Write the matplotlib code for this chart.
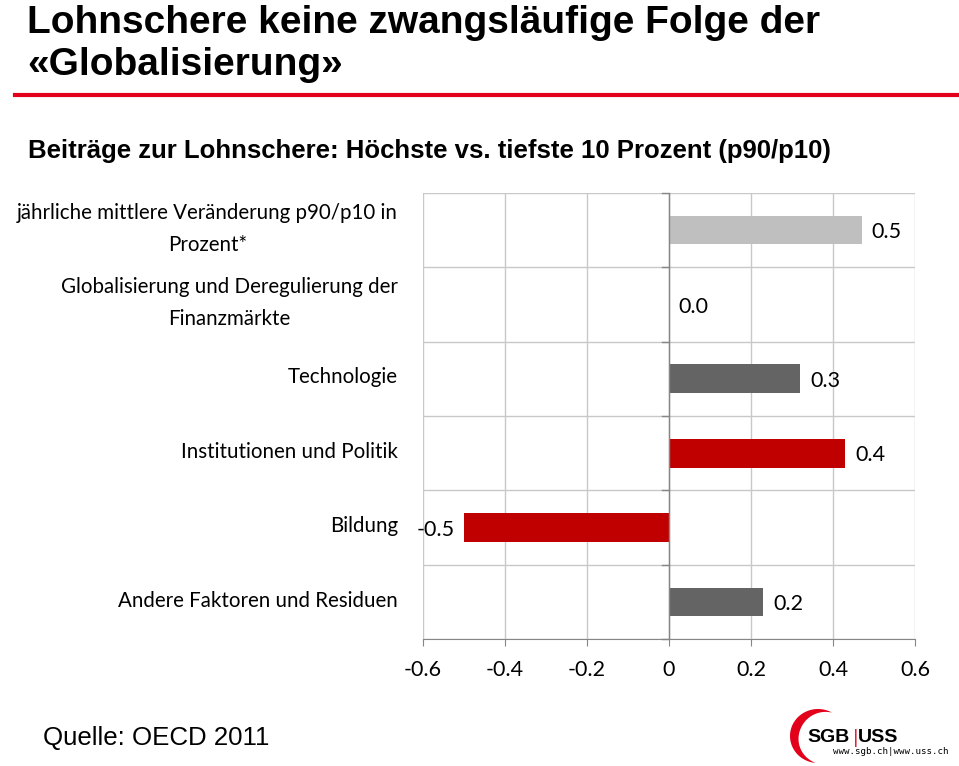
import matplotlib
matplotlib.use('Agg')
import matplotlib.pyplot as plt
from matplotlib.patches import Polygon
import numpy as np

categories = [
    'jährliche mittlere Veränderung p90/p10 in\nProzent*',
    'Globalisierung und Deregulierung der\nFinanzmärkte',
    'Technologie',
    'Institutionen und Politik',
    'Bildung',
    'Andere Faktoren und Residuen',
]
values = [0.47, 0.0, 0.32, 0.43, -0.50, 0.23]
colors = ['#BFBFBF', '#646464', '#646464', '#C00000', '#C00000', '#646464']
xticks = [-0.6, -0.4, -0.2, 0, 0.2, 0.4, 0.6]
xticklabels = ['-0.6', '-0.4', '-0.2', '0', '0.2', '0.4', '0.6']

body_font = ['Lato', 'DejaVu Sans']
head_font = ['Liberation Sans', 'DejaVu Sans']
W, H = 959, 766

fig = plt.figure(figsize=(W / 100, H / 100), dpi=100)

# header
fig.text(27 / W, 1 - 5 / H, 'Lohnschere keine zwangsläufige Folge der\n«Globalisierung»',
         fontsize=28, fontweight='bold', family=head_font, va='top', ha='left',
         linespacing=1.2)
fig.add_artist(plt.Line2D([15 / W, 957 / W], [1 - 95 / H, 1 - 95 / H],
                          color='#E2001A', lw=3, transform=fig.transFigure))
fig.text(28 / W, 1 - 151 / H, 'Beiträge zur Lohnschere: Höchste vs. tiefste 10 Prozent (p90/p10)',
         fontsize=18.5, fontweight='bold', family=head_font, va='center', ha='left')

ax = fig.add_axes([423 / W, 1 - 639.3 / H, 492 / W, 446.6 / H])
y = np.arange(len(categories))
ax.barh(y, values, height=0.385, color=colors, zorder=3)
ax.set_xlim(-0.6, 0.6)
ax.set_ylim(len(categories) - 0.5, -0.5)

# grid
for xv in xticks:
    ax.axvline(xv, color='#C8C8C8', lw=1, zorder=1)
for yv in np.arange(-0.5, len(categories) + 0.5, 1):
    ax.axhline(yv, color='#C8C8C8', lw=1, zorder=1)
ax.axvline(0, color='#868686', lw=1, zorder=4)

for s in ['top', 'right', 'left']:
    ax.spines[s].set_visible(False)
ax.spines['bottom'].set_color('#868686')

ax.set_xticks(xticks)
ax.set_xticklabels(xticklabels, family=body_font, fontsize=15.5)
ax.tick_params(axis='x', length=5, color='#868686', pad=10)
ax.set_yticks([])

# category tick marks on the zero axis
for yv in np.arange(-0.5, len(categories) + 0.5, 1):
    ax.plot([-0.017, 0], [yv, yv], color='#868686', lw=1, zorder=4, clip_on=False)

# category labels
for i, lab in enumerate(categories):
    ax.annotate(lab, xy=(0, i), xycoords=('axes fraction', 'data'),
                xytext=(-18, 1), textcoords='offset points',
                ha='right', va='center', multialignment='center',
                family=body_font, fontsize=14.8, linespacing=1.75)

# value labels
for i, v in enumerate(values):
    off = 7 if v >= 0 else -7
    ax.annotate('%.1f' % v, xy=(v, i + 0.03), xytext=(off, 0), textcoords='offset points',
                ha='left' if v >= 0 else 'right', va='center',
                family=body_font, fontsize=15.5, zorder=5)

# footer
fig.text(43 / W, 1 - 738 / H, 'Quelle: OECD 2011', fontsize=18.6,
         family=head_font, va='center', ha='left')

# logo (pixel units, y up from bottom edge)
lax = fig.add_axes([780 / W, 0, 179 / W, 66 / H])
lax.set_xlim(0, 179)
lax.set_ylim(0, 66)
lax.axis('off')
t = np.radians(np.linspace(60, 265, 80))
u = np.linspace(0, 1, 80)
w = 9 * np.sin(np.pi * u)
cx, cy, rx, ry = 38, 30, 28, 27
outer = np.column_stack([cx + rx * np.cos(t), cy + ry * np.sin(t)])
inner = np.column_stack([cx + (rx - w) * np.cos(t), cy + (ry - w) * np.sin(t)])[::-1]
lax.add_patch(Polygon(np.vstack([outer, inner]), closed=True, color='#E2001A', lw=0))
lax.text(27, 28, 'SGB', fontsize=14, fontweight='bold', family=head_font,
         va='center', ha='left')
lax.text(73, 28, '|', fontsize=12, color='#E2001A', va='center', ha='left')
lax.text(78, 28, 'USS', fontsize=14, fontweight='bold', family=head_font,
         va='center', ha='left')
lax.text(53, 14, 'www.sgb.ch|www.uss.ch', fontsize=6.6, family=['DejaVu Sans Mono'],
         va='center', ha='left')

fig.savefig('out.png', dpi=100)
